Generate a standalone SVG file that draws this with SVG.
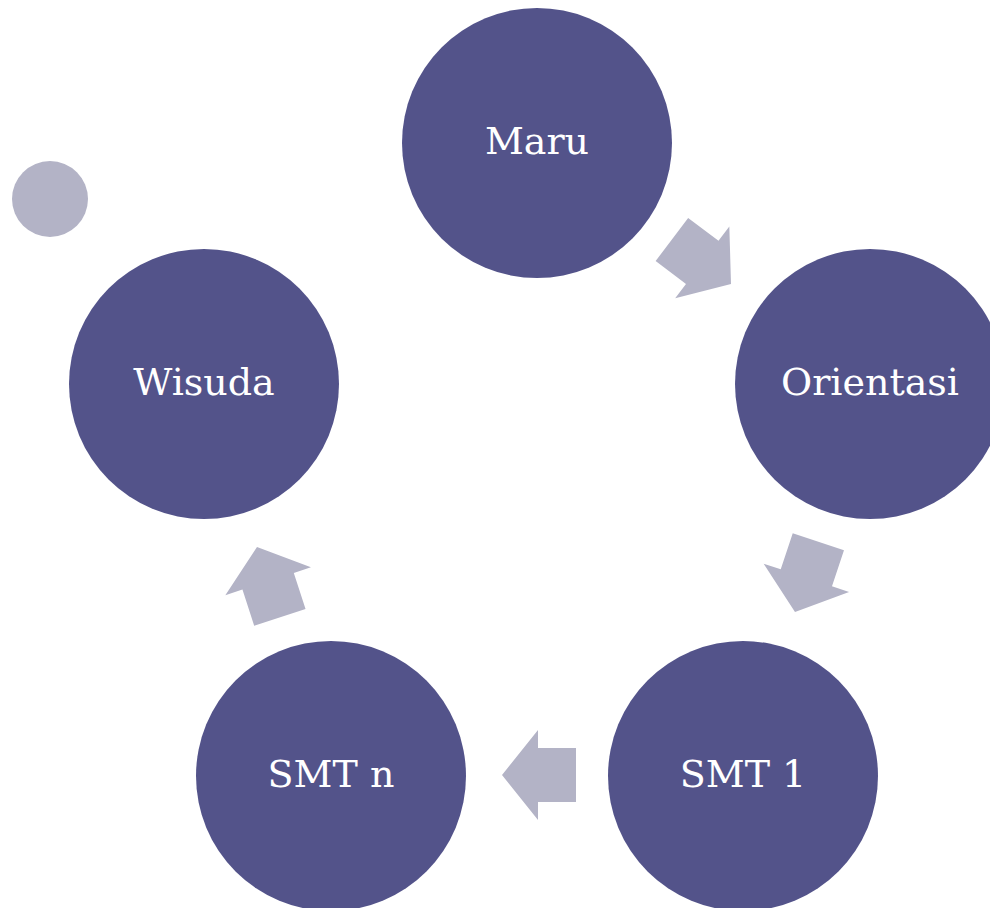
<svg xmlns="http://www.w3.org/2000/svg" width="990" height="908" viewBox="0 0 990 908">
<defs>
<style>
.node{fill:#53538A}
.lbl{fill:#FFFFFF;font-family:"DejaVu Serif","Liberation Serif",serif;font-size:38px;text-anchor:middle}
.arr{fill:#B3B3C6}
</style>
<polygon id="arrow" points="0,0 -36,-45 -36,-27 -74,-27 -74,27 -36,27 -36,45"/>
</defs>
<rect width="990" height="908" fill="#FFFFFF"/>
<circle cx="50" cy="199" r="38" class="arr"/>
<g id="connectors" class="arr">
<use href="#arrow" transform="translate(731,284) rotate(37)"/>
<use href="#arrow" transform="translate(795,612) rotate(108.4)"/>
<use href="#arrow" transform="translate(502,775) rotate(180)"/>
<use href="#arrow" transform="translate(257,547) rotate(252)"/>
</g>
<g id="maru"><circle cx="537" cy="143" r="135" class="node"/><text x="537" y="154" class="lbl">Maru</text></g>
<g id="orientasi"><circle cx="870" cy="384" r="135" class="node"/><text x="870" y="395" class="lbl">Orientasi</text></g>
<g id="smt1"><circle cx="743" cy="776" r="135" class="node"/><text x="743" y="787" class="lbl">SMT 1</text></g>
<g id="smtn"><circle cx="331" cy="776" r="135" class="node"/><text x="331" y="787" class="lbl">SMT n</text></g>
<g id="wisuda"><circle cx="204" cy="384" r="135" class="node"/><text x="204" y="395" class="lbl">Wisuda</text></g>
</svg>
